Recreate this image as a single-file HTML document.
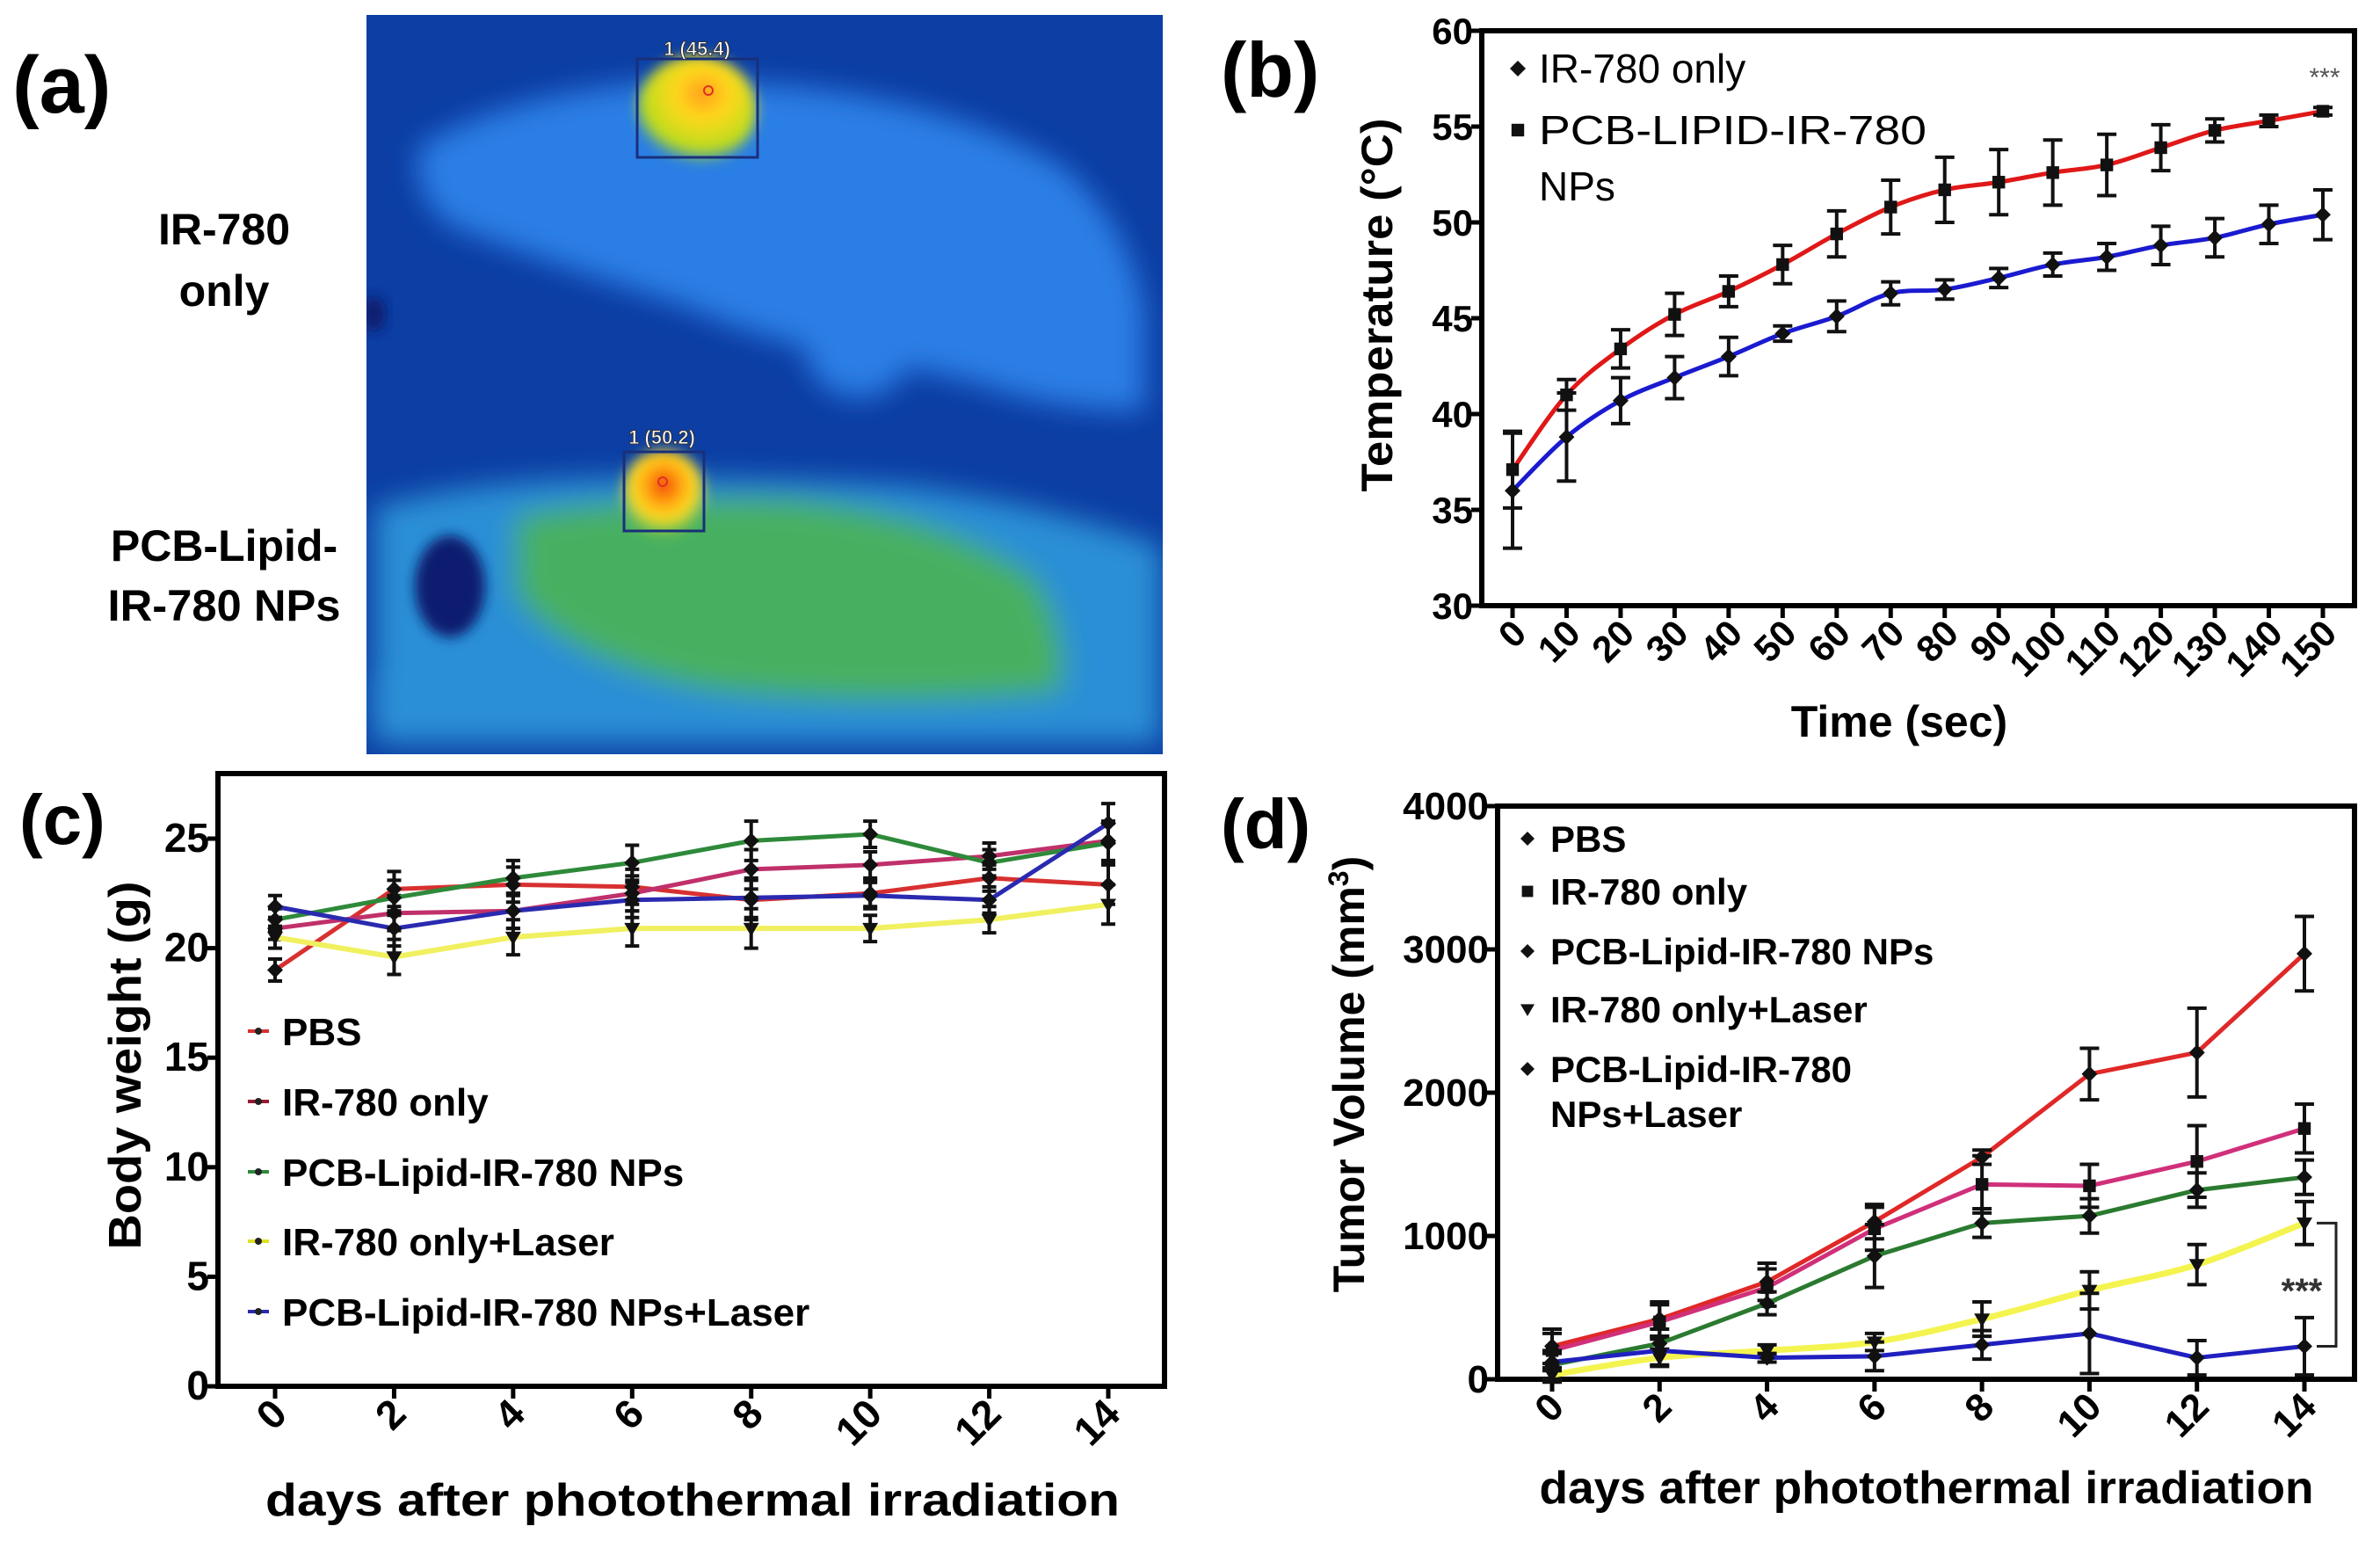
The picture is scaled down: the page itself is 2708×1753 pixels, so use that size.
<!DOCTYPE html>
<html><head><meta charset="utf-8">
<style>
html,body{margin:0;padding:0;background:#fff;}
svg{display:block;font-family:"Liberation Sans",Arial,sans-serif;}
</style></head>
<body>
<svg id="fig" width="2708" height="1753" viewBox="0 0 2708 1753" xmlns="http://www.w3.org/2000/svg">
<defs>
  <filter id="blur20" x="-20%" y="-20%" width="140%" height="140%"><feGaussianBlur stdDeviation="16"/></filter>
  <filter id="blur8" x="-30%" y="-30%" width="160%" height="160%"><feGaussianBlur stdDeviation="7"/></filter>
  <radialGradient id="hot1" cx="55%" cy="35%" r="65%">
    <stop offset="0" stop-color="#ff9a1a"/><stop offset="0.35" stop-color="#ffd81a"/><stop offset="0.8" stop-color="#b8dc20"/><stop offset="1" stop-color="#6cc040" stop-opacity="0"/>
  </radialGradient>
  <radialGradient id="hot2" cx="50%" cy="40%" r="60%">
    <stop offset="0" stop-color="#f03010"/><stop offset="0.3" stop-color="#ff9a10"/><stop offset="0.65" stop-color="#ffe020"/><stop offset="1" stop-color="#b0d830" stop-opacity="0"/>
  </radialGradient>
</defs>

<!-- Panel a -->
<g>
  <text x="14" y="128" font-size="92" font-weight="bold">(a)</text>
  <text x="255" y="278" font-size="50" font-weight="bold" text-anchor="middle">IR-780</text>
  <text x="255" y="348" font-size="50" font-weight="bold" text-anchor="middle">only</text>
  <text x="255" y="638" font-size="50" font-weight="bold" text-anchor="middle">PCB-Lipid-</text>
  <text x="255" y="706" font-size="50" font-weight="bold" text-anchor="middle" textLength="265" lengthAdjust="spacingAndGlyphs">IR-780 NPs</text>
  <g>
    <svg x="417" y="17" width="906" height="841" viewBox="0 0 906 841" overflow="hidden">
      <rect width="906" height="841" fill="#0c3ea3"/>
      <g filter="url(#blur20)">
        <path d="M60 150 Q150 95 308 78 Q480 70 619 104 Q720 130 792 173 Q870 240 885 340 L885 450 Q780 450 700 420 Q620 400 550 389 Q450 370 360 330 Q230 290 101 242 Q50 210 60 150 Z" fill="#2a7ee6"/>
        <ellipse cx="560" cy="380" rx="60" ry="55" fill="#2a7ee6"/>
        <path d="M10 560 Q120 530 274 527 Q450 525 619 536 Q720 550 792 570 Q870 590 904 605 L904 829 L10 829 Q0 760 10 743 Z" fill="#2b8fd6"/>
        <path d="M170 570 Q300 545 480 550 Q650 565 760 640 Q800 700 790 770 Q600 790 400 770 Q230 740 170 660 Z" fill="#46b060"/>
      </g>
      <ellipse cx="95" cy="650" rx="40" ry="58" fill="#081e70" filter="url(#blur8)"/>
      <ellipse cx="8" cy="340" rx="14" ry="20" fill="#081e70" filter="url(#blur8)"/>
      <ellipse cx="376" cy="108" rx="68" ry="62" fill="url(#hot1)" filter="url(#blur8)"/>
      <ellipse cx="338" cy="545" rx="48" ry="50" fill="url(#hot2)" filter="url(#blur8)"/>
    </svg>
    <rect x="725" y="67" width="137" height="112" fill="none" stroke="#1a2f7a" stroke-width="3"/>
    <circle cx="806" cy="103" r="5" fill="none" stroke="#e03020" stroke-width="2"/>
    <text x="793" y="63" font-size="22" font-weight="bold" fill="#fff" stroke="#333" stroke-width="1" text-anchor="middle">1 (45.4)</text>
    <rect x="710" y="514" width="91" height="90" fill="none" stroke="#1a2f7a" stroke-width="3"/>
    <circle cx="754" cy="548" r="5" fill="none" stroke="#e03020" stroke-width="2"/>
    <text x="753" y="505" font-size="22" font-weight="bold" fill="#fff" stroke="#333" stroke-width="1" text-anchor="middle">1 (50.2)</text>
  </g>
</g>

<g id="pb"></g>
<g id="pc"></g>
<g id="pd"></g>
</svg>

<script>
// ---------- Panel b data ----------
const bTimes = [0,10,20,30,40,50,60,70,80,90,100,110,120,130,140,150];
const bIR780 = [36,38.8,40.7,41.9,43,44.2,45.1,46.3,46.5,47.1,47.8,48.2,48.8,49.2,49.9,50.4];
const bIR780Err = [3,2.3,1.2,1.1,1,0.4,0.8,0.6,0.5,0.5,0.6,0.7,1,1,1,1.3];
const bNPs = [37.1,41,43.4,45.2,46.4,47.8,49.4,50.8,51.7,52.1,52.6,53,53.9,54.8,55.3,55.8];
const bNPsErr = [2,0.8,1,1.1,0.8,1,1.2,1.4,1.7,1.7,1.7,1.6,1.2,0.6,0.3,0.2];
const bYTicks = [30,35,40,45,50,55,60];

// ---------- Panel c data ----------
const cDays = [0,2,4,6,8,10,12,14];
const cPBS = [19,22.7,22.9,22.8,22.2,22.5,23.2,22.9];
const cIR780 = [20.9,21.6,21.7,22.5,23.6,23.8,24.2,24.9];
const cNPs = [21.3,22.3,23.2,23.9,24.9,25.2,23.9,24.8];
const cIRLaser = [20.5,19.6,20.5,20.9,20.9,20.9,21.3,22];
const cNPsLaser = [21.9,20.9,21.7,22.2,22.3,22.4,22.2,25.7];
const cErr = [0.5,0.8,0.8,0.8,0.9,0.6,0.6,0.9];
const cYTicks = [0,5,10,15,20,25];

// ---------- Panel d data ----------
const dDays = [0,2,4,6,8,10,12,14];
const dPBS = [230,420,680,1100,1550,2130,2280,2970];
const dPBSErr = [120,120,130,120,50,180,310,260];
const dIR780 = [200,400,640,1050,1360,1350,1520,1750];
const dIR780Err = [120,120,130,150,200,150,250,170];
const dNPs = [100,250,530,860,1090,1140,1320,1410];
const dNPsErr = [100,100,80,220,100,120,120,120];
const dIRLaser = [30,150,200,260,420,620,800,1090];
const dIRLaserErr = [50,60,40,60,120,130,140,150];
const dNPsLaser = [120,200,150,160,240,320,150,230];
const dNPsLaserErr = [60,100,30,100,100,280,120,200];
const dYTicks = [0,1000,2000,3000,4000];

const NS = "http://www.w3.org/2000/svg";
function mk(parent, tag, attrs, txt){
  const e = document.createElementNS(NS, tag);
  for (const k in attrs) e.setAttribute(k, attrs[k]);
  if (txt !== undefined) e.textContent = txt;
  parent.appendChild(e);
  return e;
}
function smoothPath(pts){
  let d = "M"+pts[0][0]+" "+pts[0][1];
  for (let i=0;i<pts.length-1;i++){
    const p0=pts[Math.max(0,i-1)], p1=pts[i], p2=pts[i+1], p3=pts[Math.min(pts.length-1,i+2)];
    const c1x=p1[0]+(p2[0]-p0[0])/6, c1y=p1[1]+(p2[1]-p0[1])/6;
    const c2x=p2[0]-(p3[0]-p1[0])/6, c2y=p2[1]-(p3[1]-p1[1])/6;
    d+=" C"+c1x+" "+c1y+" "+c2x+" "+c2y+" "+p2[0]+" "+p2[1];
  }
  return d;
}
function marker(g, shape, x, y, s){
  if (shape==="square") return mk(g,"rect",{x:x-s*0.8,y:y-s*0.8,width:s*1.6,height:s*1.6,fill:"#111"});
  if (shape==="tri") return mk(g,"path",{d:`M${x-s} ${y-s*0.7} L${x+s} ${y-s*0.7} L${x} ${y+s} Z`,fill:"#111"});
  return mk(g,"path",{d:`M${x} ${y-s} L${x+s} ${y} L${x} ${y+s} L${x-s} ${y} Z`,fill:"#111"});
}
function series(g, name, xs, ys, errs, X, Y, color, shape, smooth, capW, lw){
  const sg = mk(g,"g",{});
  
  
  const pts = xs.map((x,i)=>[X(x),Y(ys[i])]);
  const d = smooth ? smoothPath(pts) : "M"+pts.map(p=>p[0]+" "+p[1]).join(" L");
  const ln = mk(sg,"path",{d:d,fill:"none",stroke:color,"stroke-width":lw,"stroke-linejoin":"round"});
  
  
  xs.forEach((x,i)=>{
    const e = errs[i], cx=X(x);
    const eb = mk(sg,"path",{d:`M${cx} ${Y(ys[i]-e)} L${cx} ${Y(ys[i]+e)} M${cx-capW} ${Y(ys[i]-e)} L${cx+capW} ${Y(ys[i]-e)} M${cx-capW} ${Y(ys[i]+e)} L${cx+capW} ${Y(ys[i]+e)}`,stroke:"#111","stroke-width":4,fill:"none"});
    
    
    const m = marker(sg, shape, cx, Y(ys[i]), 9);
    
    
  });
}
function axes(g, box, yTicks, Y, xTicks, X, tickFont, tickOffX){
  const fr = mk(g,"rect",{x:box.l,y:box.t,width:box.r-box.l,height:box.b-box.t,fill:"none",stroke:"#000","stroke-width":6});
  
  
  yTicks.forEach(v=>{
    const y=Y(v);
    mk(g,"line",{x1:box.l-12,x2:box.l,y1:y,y2:y,stroke:"#000","stroke-width":5});
    const t = mk(g,"text",{x:box.l-10,y:y+15,"font-size":tickFont,"font-weight":"bold","text-anchor":"end"}, String(v));
    
    
  });
  xTicks.forEach(v=>{
    const x=X(v);
    mk(g,"line",{x1:x,x2:x,y1:box.b,y2:box.b+14,stroke:"#000","stroke-width":5});
    const t = mk(g,"text",{transform:`translate(${x+tickOffX},${box.b+34}) rotate(-45)`,"font-size":tickFont,"font-weight":"bold","text-anchor":"end"}, String(v));
    
    
  });
}
function label(g, name, x, y, txt, size, opts){
  const a = Object.assign({x:x,y:y,"font-size":size,"font-weight":"bold"}, opts||{});
  const t = mk(g,"text",a,txt);
  
  
  return t;
}

// ===== Panel b =====
(function(){
  const g = document.getElementById("pb");
  const box = {l:1686,r:2679,t:35,b:689};
  const X = v => 1721 + (v-0)/(150-0)*(2643-1721);
  const Y = v => 689 - (v-30)/(60-30)*(689-35);
  axes(g, box, bYTicks, Y, bTimes, X, 42, 18);
  series(g,"series-ir780-only",bTimes,bIR780,bIR780Err,X,Y,"#1a1ad0","diamond",true,11,5);
  series(g,"series-pcb-lipid-nps",bTimes,bNPs,bNPsErr,X,Y,"#e01818","square",true,11,5);
  label(g,"panel-b-label",1389,110,"(b)",88);
  label(g,"x-axis-title",2161,838,"Time (sec)",50,{"text-anchor":"middle"});
  label(g,"y-axis-title",0,0,"Temperature (°C)",50,{"text-anchor":"middle",transform:"translate(1584,347) rotate(-90)",textLength:"425",lengthAdjust:"spacingAndGlyphs"});
  const lg = mk(g,"g",{});  
  marker(lg,"diamond",1727,78,9);
  mk(lg,"text",{x:1751,y:94,"font-size":46},"IR-780 only");
  marker(lg,"square",1727,148,9);
  mk(lg,"text",{x:1751,y:164,"font-size":46,textLength:"441",lengthAdjust:"spacingAndGlyphs"},"PCB-LIPID-IR-780");
  mk(lg,"text",{x:1751,y:228,"font-size":46},"NPs");
  label(g,"significance-stars",2645,98,"***",30,{"text-anchor":"middle",fill:"#555","font-weight":"normal"});
})();

// ===== Panel c =====
(function(){
  const g = document.getElementById("pc");
  const box = {l:248,r:1325,t:880,b:1577};
  const X = v => 313 + (v-0)/(14-0)*(1261-313);
  const Y = v => 1577 - (v-0)/(25-0)*(1577-954);
  axes(g, box, cYTicks, Y, cDays, X, 46, 16);
  series(g,"series-pbs",cDays,cPBS,cErr,X,Y,"#d83030","diamond",false,8,5);
  series(g,"series-ir780-only",cDays,cIR780,cErr,X,Y,"#c0306a","diamond",false,8,5);
  series(g,"series-pcb-lipid-nps",cDays,cNPs,cErr,X,Y,"#2e8a3a","diamond",false,8,5);
  series(g,"series-ir780-laser",cDays,cIRLaser,cErr,X,Y,"#f0f060","tri",false,8,6);
  series(g,"series-nps-laser",cDays,cNPsLaser,cErr,X,Y,"#2a2ab0","diamond",false,8,5);
  label(g,"panel-c-label",22,960,"(c)",80);
  label(g,"x-axis-title",788,1724,"days after photothermal irradiation",52,{"text-anchor":"middle",textLength:"972",lengthAdjust:"spacingAndGlyphs"});
  label(g,"y-axis-title",0,0,"Body weight (g)",52,{"text-anchor":"middle",transform:"translate(160,1212) rotate(-90)",textLength:"419",lengthAdjust:"spacingAndGlyphs"});
  const names = ["PBS","IR-780 only","PCB-Lipid-IR-780 NPs","IR-780 only+Laser","PCB-Lipid-IR-780 NPs+Laser"];
  const cols = ["#d83030","#9a1830","#2e8a3a","#e0e020","#2a2ab0"];
  const rows = [1173,1253,1333,1412,1492];
  const lg = mk(g,"g",{});  
  names.forEach((n,i)=>{
    mk(lg,"line",{x1:282,x2:306,y1:rows[i],y2:rows[i],stroke:cols[i],"stroke-width":4});
    mk(lg,"circle",{cx:294,cy:rows[i],r:4,fill:"#222"});
    const t = mk(lg,"text",{x:321,y:rows[i]+16,"font-size":44,"font-weight":"bold"},n);
    
    
  });
})();

// ===== Panel d =====
(function(){
  const g = document.getElementById("pd");
  const box = {l:1704,r:2679,t:917,b:1569};
  const X = v => 1766 + (v-0)/(14-0)*(2622-1766);
  const Y = v => 1569 - (v-0)/(4000-0)*(1569-917);
  axes(g, box, dYTicks, Y, dDays, X, 44, 16);
  series(g,"series-pbs",dDays,dPBS,dPBSErr,X,Y,"#e02828","diamond",false,11,5);
  series(g,"series-ir780-only",dDays,dIR780,dIR780Err,X,Y,"#d0307a","square",false,11,5);
  series(g,"series-pcb-lipid-nps",dDays,dNPs,dNPsErr,X,Y,"#2a7a30","diamond",false,11,5);
  series(g,"series-ir780-laser",dDays,dIRLaser,dIRLaserErr,X,Y,"#f4f450","tri",true,11,7);
  series(g,"series-nps-laser",dDays,dNPsLaser,dNPsLaserErr,X,Y,"#2020c0","diamond",false,11,5);
  const bx = 2658;
  const br = mk(g,"path",{d:`M${X(14)+14} ${Y(dIRLaser[7])} L${bx} ${Y(dIRLaser[7])} L${bx} ${Y(dNPsLaser[7])} L${X(14)+14} ${Y(dNPsLaser[7])}`,fill:"none",stroke:"#222","stroke-width":3});
  
  
  label(g,"significance-stars",2619,1482,"***",40,{"text-anchor":"middle",fill:"#333"});
  label(g,"panel-d-label",1389,965,"(d)",80);
  label(g,"x-axis-title",2192,1710,"days after photothermal irradiation",52,{"text-anchor":"middle",textLength:"881",lengthAdjust:"spacingAndGlyphs"});
  const yt = label(g,"y-axis-title",0,0,"Tumor Volume (mm",50,{"text-anchor":"middle",transform:"translate(1552,1222) rotate(-90)"});
  mk(yt,"tspan",{dy:-18,"font-size":32},"3");
  mk(yt,"tspan",{dy:18},")");
  const names = ["PBS","IR-780 only","PCB-Lipid-IR-780 NPs","IR-780 only+Laser","PCB-Lipid-IR-780"];
  const shapes = ["diamond","square","diamond","tri","diamond"];
  const rows = [954,1014,1082,1148,1216];
  const lg = mk(g,"g",{});  
  names.forEach((n,i)=>{
    marker(lg,shapes[i],1738,rows[i],8);
    const t = mk(lg,"text",{x:1764,y:rows[i]+15,"font-size":42,"font-weight":"bold"},n);
    
    
  });
  mk(lg,"text",{x:1764,y:1282,"font-size":42,"font-weight":"bold"},"NPs+Laser");
})();
</script>
</body></html>
